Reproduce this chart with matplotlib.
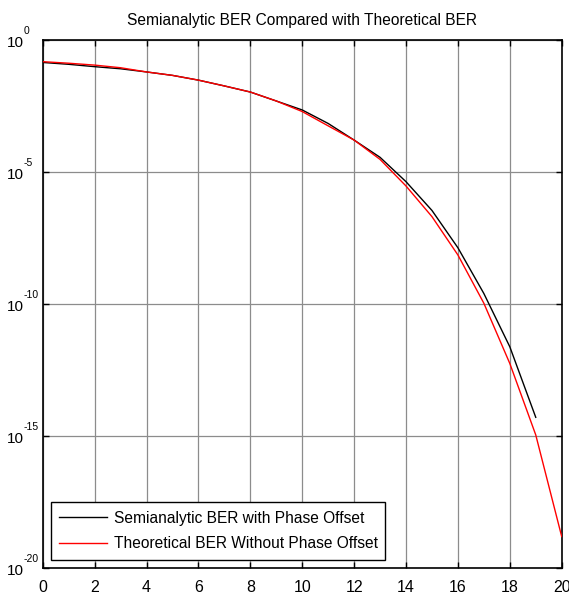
import numpy as np
import matplotlib
matplotlib.use("Agg")
import matplotlib.pyplot as plt
import matplotlib.transforms as mtransforms
from matplotlib.ticker import FixedLocator, NullLocator

# ---- data ----
ebno_semi = [0, 1, 2, 3, 4, 5, 6, 7, 8, 9, 10, 11, 12, 13, 14, 15, 16, 17, 18, 19]
ber_semi = [0.141, 0.120, 0.0977, 0.0813, 0.0617, 0.0457, 0.0302, 0.0182, 0.0107, 4.9e-3,
            2.24e-3, 6.9e-4, 1.62e-4, 3.6e-5, 4.3e-6, 3.5e-7, 1.35e-8, 2.5e-10, 2.4e-12, 5.1e-15]
ebno_theo = [0, 1, 2, 3, 4, 5, 6, 7, 8, 9, 10, 11, 12, 13, 14, 15, 16, 17, 18, 19, 20]
ber_theo = [0.151, 0.132, 0.112, 0.0891, 0.0617, 0.0457, 0.0302, 0.0182, 0.0107, 4.9e-3,
            1.95e-3, 5.6e-4, 1.62e-4, 3.0e-5, 2.95e-6, 2.04e-7, 7.2e-9, 1.07e-10, 5.6e-13,
            1.1e-15, 1.55e-19]
x_ticks = [0, 2, 4, 6, 8, 10, 12, 14, 16, 18, 20]
y_ticks = [1e-20, 1e-15, 1e-10, 1e-5, 1e0]
y_tick_exponents = ["-20", "-15", "-10", "-5", "0"]
title = "Semianalytic BER Compared with Theoretical BER"
labels = ["Semianalytic BER with Phase Offset", "Theoretical BER Without Phase Offset"]

plt.rcParams['font.family'] = ['Liberation Sans', 'DejaVu Sans']

W, H = 569, 593
fig = plt.figure(figsize=(W / 100, H / 100), dpi=100)
L, R, T, B = 42.7, 561.7, 40.0, 568.0
ax = fig.add_axes([L / W, 1 - B / H, (R - L) / W, (B - T) / H])

ax.semilogy(ebno_semi, ber_semi, color='black', lw=1.0, label=labels[0], zorder=3)
ax.semilogy(ebno_theo, ber_theo, color='red', lw=1.0, label=labels[1], zorder=3)

ax.set_xlim(0, 20)
ax.set_ylim(1e-20, 1e0)
ax.xaxis.set_major_locator(FixedLocator(x_ticks))
ax.yaxis.set_major_locator(FixedLocator(y_ticks))
ax.yaxis.set_minor_locator(NullLocator())
ax.set_yticklabels([""] * len(y_ticks))
ax.set_xticklabels([str(v) for v in x_ticks])

ax.grid(True, which='major', color='#8c8c8c', lw=0.9, ls='-')
ax.set_axisbelow(True)
ax.tick_params(direction='in', length=4, width=1, top=True, right=True)
ax.tick_params(axis='x', labelsize=11.5, pad=8.3)
for s in ax.spines.values():
    s.set_linewidth(1.2)
    s.set_color('black')

# y tick labels drawn as base + superscript exponent
ytrans = ax.get_yaxis_transform()
x_base = (7.0 - L) / (R - L)
x_exp = (23.5 - L) / (R - L)
base_tr = mtransforms.offset_copy(ytrans, fig=fig, x=0, y=-7.0, units='dots')
exp_tr = mtransforms.offset_copy(ytrans, fig=fig, x=0, y=6.0, units='dots')
for val, ex in zip(y_ticks, y_tick_exponents):
    ax.text(x_base, val, "10", transform=base_tr, fontsize=11, ha='left', va='baseline',
            clip_on=False)
    ax.text(x_exp, val, ex, transform=exp_tr, fontsize=7.5, ha='left', va='baseline',
            clip_on=False)

ax.set_title(title, fontsize=11.2, pad=10.5)

x0 = (50.7 - L) / (R - L)
x1 = (385.0 - L) / (R - L)
y0 = (B - 560.0) / (B - T)
y1 = (B - 495.0) / (B - T)
leg = ax.legend(loc='lower left', bbox_to_anchor=(x0, y0, x1 - x0, y1 - y0), mode='expand',
                fontsize=11.2, frameon=True, fancybox=False, framealpha=1,
                edgecolor='black', borderaxespad=0, handlelength=3.1,
                handletextpad=0.4, borderpad=0.55, labelspacing=0.7)
leg.get_frame().set_linewidth(1.0)

fig.savefig("out.png", dpi=100)
